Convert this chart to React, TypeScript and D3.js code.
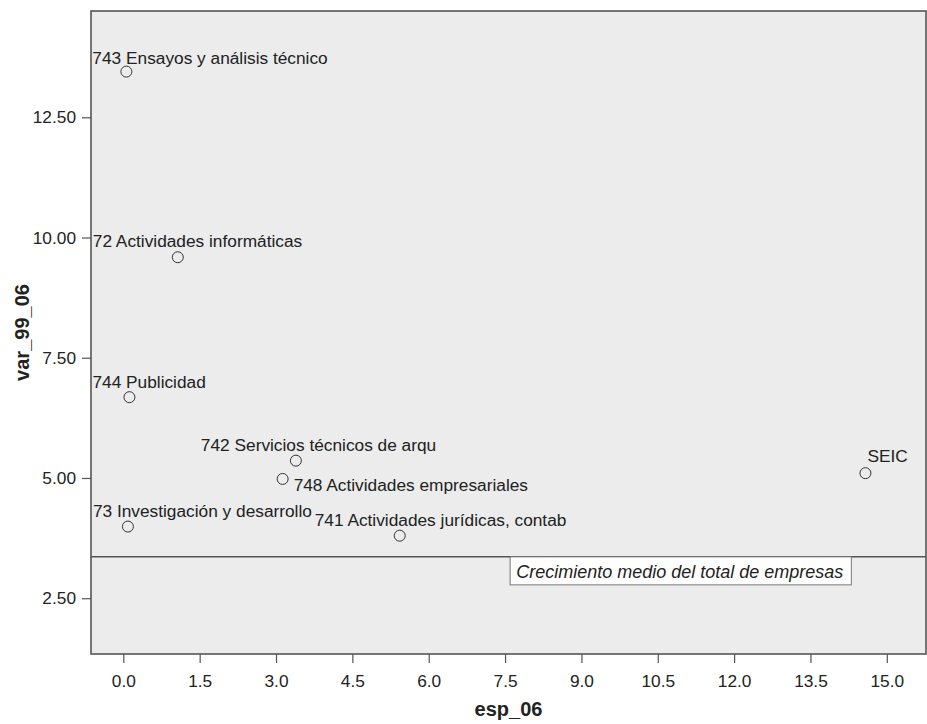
import React, { useRef, useEffect } from 'react';
import * as d3 from 'd3';

const labels = [
  '743 Ensayos y análisis técnico',
  '72 Actividades informáticas',
  '744 Publicidad',
  '742 Servicios técnicos de arqu',
  '748 Actividades empresariales',
  '73 Investigación y desarrollo',
  '741 Actividades jurídicas, contab',
  'SEIC',
];
const espValues = [0.06, 1.07, 0.12, 3.39, 3.13, 0.09, 5.43, 14.58];
const varValues = [13.45, 9.59, 6.68, 5.36, 4.98, 3.99, 3.8, 5.1];

// label offsets from the point, in pixels (where the source chart placed them)
const labelDx = [-34, -85, -37, -95, 11, -35, -85, 2];
const labelDy = [-8, -10, -9, -10, 12, -10, -10, -11];

const xTicks = [0, 1.5, 3, 4.5, 6, 7.5, 9, 10.5, 12, 13.5, 15];
const yTicks = [2.5, 5, 7.5, 10, 12.5];

const meanGrowth = 3.36;
const meanLabel = 'Crecimiento medio del total de empresas';
const meanLabelX = 7.6;

const width = 927;
const height = 724;
const font = '"Liberation Sans", Arial, Helvetica, sans-serif';

const App: React.FC = () => {
  const svgRef = useRef<SVGSVGElement>(null);

  useEffect(() => {
    if (!svgRef.current) return;
    const svg = d3.select(svgRef.current);
    svg.selectAll('*').remove();

    const left = 91, right = 926, top = 11, bottom = 654;

    const x = d3.scaleLinear().domain([-0.635, 15.77]).range([left, right]);
    const y = d3.scaleLinear().domain([1.34, 14.71]).range([bottom, top]);

    // plot background
    svg.append('rect')
      .attr('x', left)
      .attr('y', top)
      .attr('width', right - left)
      .attr('height', bottom - top)
      .attr('fill', '#ebeceb');

    // axes
    const xAxis = svg.append('g')
      .attr('transform', `translate(0,${bottom})`)
      .call(d3.axisBottom(x).tickValues(xTicks).tickFormat(d3.format('.1f')).tickSize(9).tickPadding(12).tickSizeOuter(0));
    const yAxis = svg.append('g')
      .attr('transform', `translate(${left},0)`)
      .call(d3.axisLeft(y).tickValues(yTicks).tickFormat(d3.format('.2f')).tickSize(9).tickPadding(6).tickSizeOuter(0));

    [xAxis, yAxis].forEach(a => {
      a.select('.domain').remove();
      a.selectAll('line').attr('stroke', '#555').attr('stroke-width', 1.2);
      a.selectAll('text')
        .attr('fill', '#222')
        .attr('font-size', '17.3px')
        .attr('font-family', font);
    });

    // frame
    svg.append('rect')
      .attr('x', left)
      .attr('y', top)
      .attr('width', right - left)
      .attr('height', bottom - top)
      .attr('fill', 'none')
      .attr('stroke', '#555')
      .attr('stroke-width', 1.6);

    // mean line
    svg.append('line')
      .attr('x1', left)
      .attr('x2', right)
      .attr('y1', y(meanGrowth))
      .attr('y2', y(meanGrowth))
      .attr('stroke', '#555')
      .attr('stroke-width', 1.5);

    const boxG = svg.append('g');
    const boxText = boxG.append('text')
      .attr('x', x(meanLabelX) + 6)
      .attr('y', y(meanGrowth) + 21)
      .attr('font-size', '18px')
      .attr('font-style', 'italic')
      .attr('font-family', font)
      .attr('fill', '#222')
      .text(meanLabel);
    const tw = (boxText.node() as SVGTextElement).getComputedTextLength();
    boxG.insert('rect', 'text')
      .attr('x', x(meanLabelX))
      .attr('y', y(meanGrowth))
      .attr('width', tw + 14)
      .attr('height', 28)
      .attr('fill', 'white')
      .attr('stroke', '#777')
      .attr('stroke-width', 1);

    // points
    labels.forEach((name, i) => {
      const px = x(espValues[i]);
      const py = y(varValues[i]);
      svg.append('circle')
        .attr('cx', px)
        .attr('cy', py)
        .attr('r', 5.5)
        .attr('fill', 'none')
        .attr('stroke', '#333')
        .attr('stroke-width', 1);
      svg.append('text')
        .attr('x', px + labelDx[i])
        .attr('y', py + labelDy[i])
        .attr('font-size', '17.3px')
        .attr('font-family', font)
        .attr('fill', '#222')
        .text(name);
    });

    // axis titles
    svg.append('text')
      .attr('x', (left + right) / 2)
      .attr('y', 716)
      .attr('text-anchor', 'middle')
      .attr('font-size', '20px')
      .attr('font-weight', 'bold')
      .attr('font-family', font)
      .attr('fill', '#222')
      .text('esp_06');
    svg.append('text')
      .attr('transform', `translate(29,${(top + bottom) / 2}) rotate(-90)`)
      .attr('text-anchor', 'middle')
      .attr('font-size', '20px')
      .attr('font-weight', 'bold')
      .attr('font-family', font)
      .attr('fill', '#222')
      .text('var_99_06');
  }, []);

  return (
    <svg
      ref={svgRef}
      width={width}
      height={height}
      style={{ position: 'absolute', left: 0, top: 0, background: 'white' }}
    />
  );
};

export default App;
